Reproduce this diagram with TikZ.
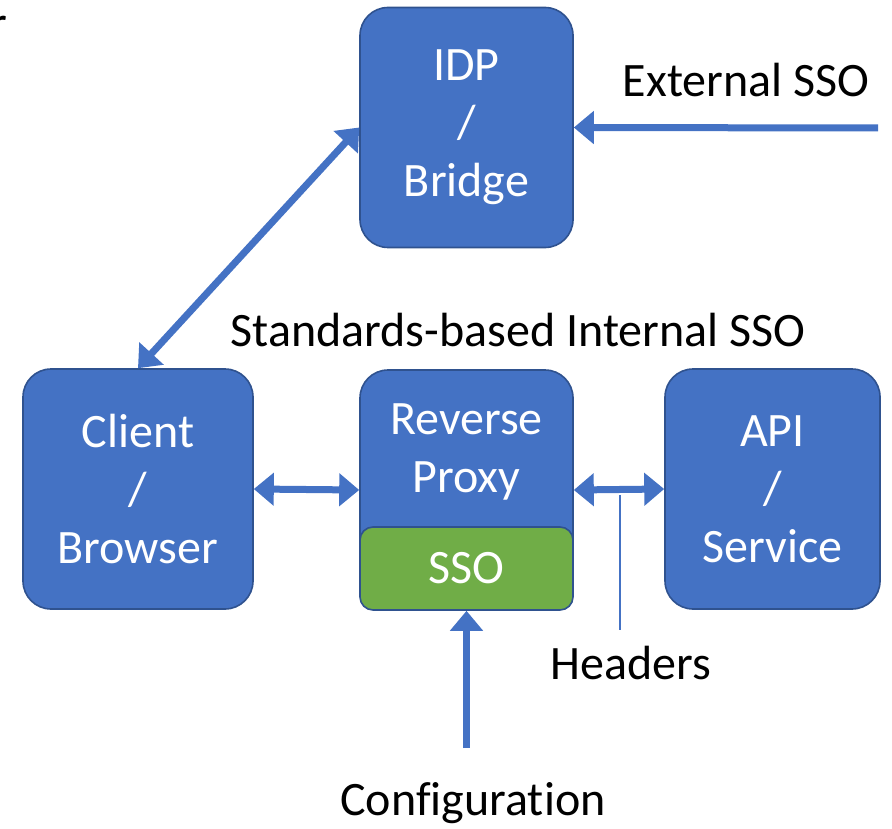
\documentclass[tikz,border=0pt]{standalone}
\usepackage{fontspec}
\setmainfont{Carlito}[Ligatures=NoCommon]
\usetikzlibrary{arrows.meta}
\definecolor{boxblue}{HTML}{4472C4}
\definecolor{boxedge}{HTML}{2F528F}
\definecolor{ssogreen}{HTML}{70AD47}

\begin{document}
\begin{tikzpicture}[x=0.5pt,y=-0.5pt,
    txt/.style={inner sep=0pt, align=center, font=\fontsize{24}{29}\selectfont},
    box/.style={txt, draw=boxedge, line width=0.8pt, fill=boxblue, text=white,
        rounded corners=14pt, minimum width=106.5pt, minimum height=120pt},
    link/.style={boxblue, line width=3.5pt,
        {Triangle[length=10pt,width=16pt]}-{Triangle[length=10pt,width=16pt]}},
    feed/.style={boxblue, line width=3.5pt, -{Triangle[length=10pt,width=16pt]}}]
    \useasboundingbox (0,0) rectangle (892,828);

    % boxes
    \node[box] (idp) at (466.5,127.5) {IDP\\/\\Bridge};
    \node[box, minimum width=115pt] (client) at (138,489) {Client\\/\\Browser};
    \node[box] (proxy) at (466.5,490) {};
    \node[txt, text=white] (proxytxt) at (466.5,452) {Reverse\\Proxy};
    \node[box, fill=ssogreen, rounded corners=6.5pt, minimum height=41.5pt] (sso) at (466.5,568.5) {SSO};
    \node[box, minimum width=107.5pt] (api) at (772.5,489) {API\\/\\Service};

    % labels
    \node[txt, anchor=base west] (frag) at (-10,40) {r};
    \node[txt] (ext) at (746,80) {External SSO};
    \node[txt] (std) at (518,330) {Standards-based Internal SSO};
    \node[txt] (hdr) at (631,663) {Headers};
    \node[txt] (cfg) at (473,803) {Configuration};

    % arrows
    \coordinate (extin) at (878,128);
    \coordinate (cfgin) at (466.5,748);
    \coordinate (hdtop) at (620,495);
    \coordinate (hdbot) at (620,630);
    \draw[link] (client.north) -- (idp.west);
    \draw[link] (client.east) -- (proxy.west);
    \draw[link] (proxy.east) -- (api.west);
    \draw[feed] (extin) -- (idp.east);
    \draw[feed] (cfgin) -- (sso.south);
    \draw[boxblue, line width=1pt] (hdtop) -- (hdbot);
\end{tikzpicture}
\end{document}
